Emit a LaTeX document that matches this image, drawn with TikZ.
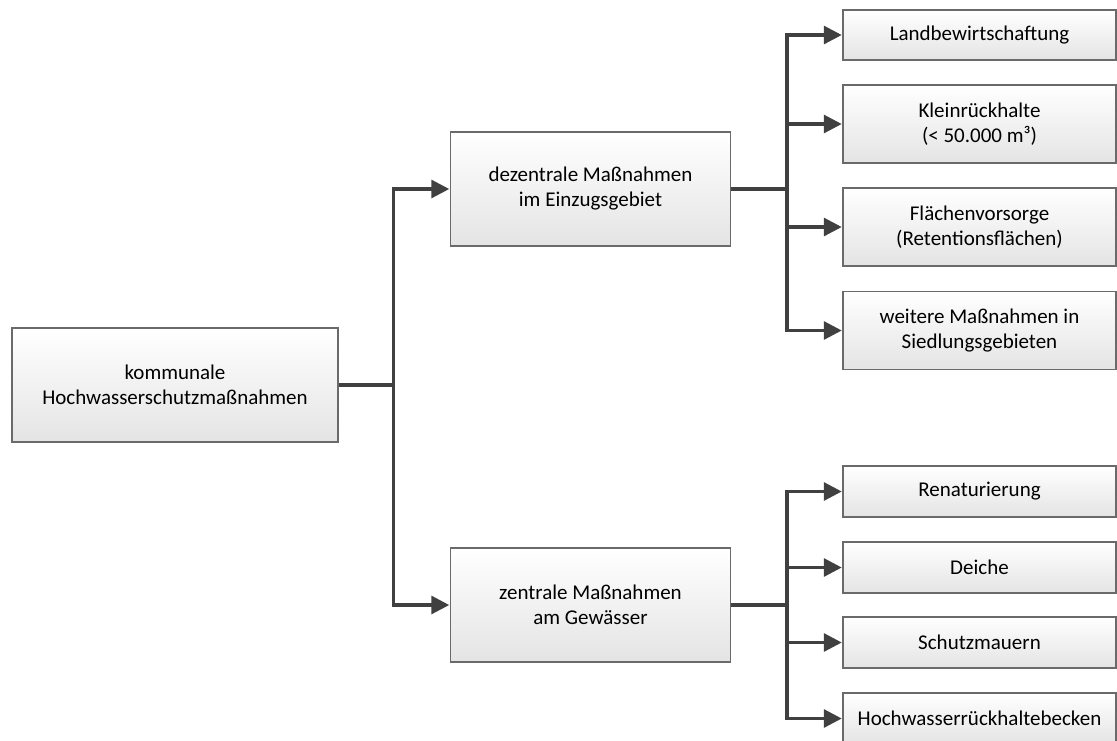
\documentclass[tikz,border=0pt]{standalone}
\usepackage{fontspec}
\setmainfont{Carlito}
\usetikzlibrary{arrows.meta}
\definecolor{edgegray}{HTML}{6A6A6A}
\definecolor{linegray}{HTML}{404040}
\definecolor{fillbottom}{HTML}{E4E4E4}
\tikzset{
  box/.style={draw=edgegray, line width=1.3pt, top color=white, bottom color=fillbottom,
    align=center, inner sep=0pt, font=\fontsize{21}{25}\selectfont},
  link/.style={draw=linegray, line width=3.2pt},
  arrowlink/.style={link, -{Triangle[length=18pt,width=18pt]}, shorten >=0.6pt},
}
\begin{document}
\begin{tikzpicture}[x=1pt,y=-1pt]
\useasboundingbox (0,0) rectangle (1117,740);
\clip (0,0) rectangle (1117,740);

% root
\node[box, minimum width=326pt, minimum height=114pt] (root) at (175,385)
  {kommunale\\Hochwasserschutzmaßnahmen};

% second level
\node[box, minimum width=280pt, minimum height=114pt] (dez) at (590.5,189)
  {dezentrale Maßnahmen\\im Einzugsgebiet};
\node[box, minimum width=280pt, minimum height=114pt] (zen) at (590.5,605)
  {zentrale Maßnahmen\\am Gewässer};

% decentral measures
\node[box, minimum width=273pt, minimum height=50pt] (land) at (979.5,35) {Landbewirtschaftung};
\node[box, minimum width=273pt, minimum height=78pt] (klein) at (979.5,124) {Kleinrückhalte\\(< 50.000 m³)};
\node[box, minimum width=273pt, minimum height=78pt] (flaeche) at (979.5,227) {Flächenvorsorge\\(Retentionsflächen)};
\node[box, minimum width=273pt, minimum height=78pt] (weitere) at (979.5,330.5) {weitere Maßnahmen in\\Siedlungsgebieten};

% central measures
\node[box, minimum width=273pt, minimum height=51pt] (renat) at (979.5,491.5) {Renaturierung};
\node[box, minimum width=273pt, minimum height=51pt] (deiche) at (979.5,567.5) {Deiche};
\node[box, minimum width=273pt, minimum height=51pt] (mauern) at (979.5,642.5) {Schutzmauern};
\node[box, minimum width=273pt, minimum height=51pt] (becken) at (979.5,718.5) {Hochwasserrückhaltebecken};

% branching points
\coordinate (j1) at (393.5,385);
\coordinate (j2) at (787,189);
\coordinate (j3) at (787,605);

\draw[link] (root.east) -- (j1);
\draw[arrowlink] (j1) |- (dez.west);
\draw[arrowlink] (j1) |- (zen.west);

\draw[link] (dez.east) -- (j2);
\draw[arrowlink] (j2) |- (land.west);
\draw[arrowlink] (j2) |- (klein.west);
\draw[arrowlink] (j2) |- (flaeche.west);
\draw[arrowlink] (j2) |- (weitere.west);

\draw[link] (zen.east) -- (j3);
\draw[arrowlink] (j3) |- (renat.west);
\draw[arrowlink] (j3) |- (deiche.west);
\draw[arrowlink] (j3) |- (mauern.west);
\draw[arrowlink] (j3) |- (becken.west);
\end{tikzpicture}
\end{document}
